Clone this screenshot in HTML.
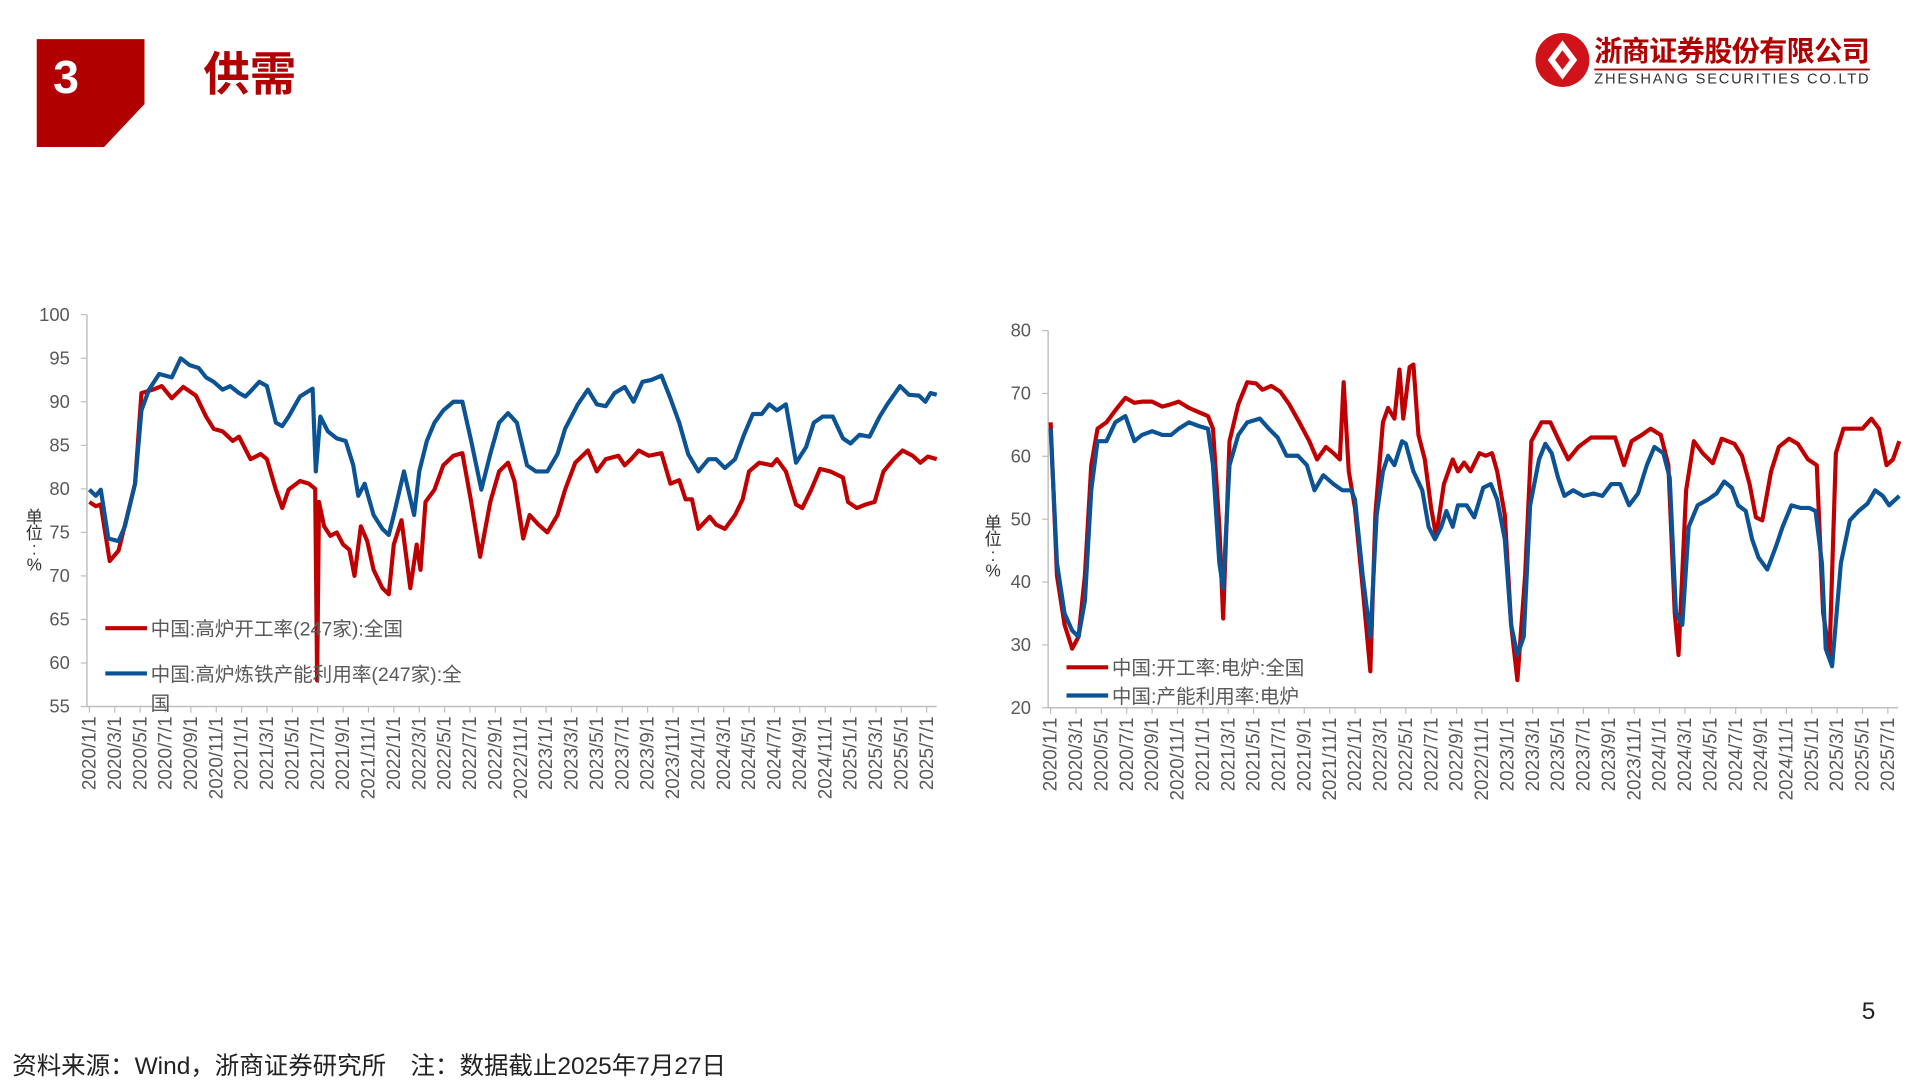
<!DOCTYPE html>
<html><head><meta charset="utf-8"><style>
html,body{margin:0;padding:0;background:#fff;width:1920px;height:1080px;overflow:hidden}
svg{display:block}
text{font-family:"Liberation Sans","Noto Sans CJK SC",sans-serif}
</style></head><body>
<svg id="root" width="1920" height="1080" viewBox="0 0 1568 882" preserveAspectRatio="none">
<g>
<path d="M30,32 H118 V85 L85,120 H30 Z" fill="#B00000"/>
<text x="54" y="76" font-size="38" font-weight="bold" fill="#fff" text-anchor="middle">3</text>
<text x="166" y="74" font-size="38" font-weight="bold" fill="#B00000">供需</text>
</g>
<g>
<circle cx="1276" cy="49" r="22" fill="#D0121B"/>
<path d="M1276,33 L1288,49 L1276,65 L1264,49 Z" fill="#fff"/>
<path d="M1276,41 L1282,49 L1276,57 L1270,49 Z" fill="#D0121B"/>
<text x="1302" y="50" font-size="23" font-weight="bold" fill="#B00000" textLength="225">浙商证券股份有限公司</text>
<rect x="1302" y="56" width="225" height="1.5" fill="#B00000"/>
<text x="1302" y="68" font-size="12" fill="#333" font-family="Liberation Serif,serif" textLength="224">ZHESHANG SECURITIES CO.LTD</text>
</g>
<g id="chartL"></g>
<g id="chartR"></g>
<text x="1526" y="832" font-size="20" fill="#222" text-anchor="middle">5</text>
<text x="10" y="877" font-size="20" fill="#222">资料来源：Wind，浙商证券研究所　注：数据截止2025年7月27日</text>
</svg>
<script>
// months since 2020-01-01
const tickLabels=[];for(let y=2020;y<=2025;y++)for(let m=1;m<=11;m+=2){if(y===2025&&m>7)break;tickLabels.push(y+'/'+m+'/1');}
const lRedDates=[0,0.5,0.9,1.6,2.3,2.9,3.6,4.1,5.0,5.7,6.5,7.4,8.4,9.2,9.8,10.5,11.3,11.8,12.7,13.5,14.0,14.7,15.2,15.7,16.6,17.3,17.8,17.95,18.1,18.5,19.0,19.5,20.0,20.5,20.9,21.4,21.9,22.4,23.1,23.6,24.0,24.6,25.3,25.8,26.1,26.5,27.2,27.9,28.7,29.4,30.1,30.8,31.6,32.3,33.0,33.5,34.2,34.7,35.4,36.1,36.9,37.5,38.3,39.3,40.0,40.7,41.7,42.2,42.7,43.3,44.1,45.1,45.8,46.5,47.0,47.5,48.0,48.9,49.4,50.1,50.9,51.5,52.0,52.8,53.8,54.2,54.9,55.7,56.2,56.9,57.6,58.4,59.4,59.8,60.5,61.2,61.9,62.6,63.4,64.1,64.9,65.5,66.1,66.8];
const lRed=[78.5,78,78.2,71.7,72.9,76.4,80.6,91,91.4,91.8,90.4,91.7,90.7,88.3,86.9,86.6,85.5,86,83.4,84,83.4,79.9,77.8,79.9,80.9,80.6,80,58,78.5,75.7,74.6,75,73.6,73,70,75.7,74,70.7,68.6,67.9,73.6,76.4,68.6,73.6,70.7,78.5,79.9,82.7,83.8,84.1,78.5,72.2,78.5,82,83,80.9,74.3,77,75.9,75,77,79.9,83,84.4,82,83.4,83.8,82.7,83.4,84.4,83.8,84.1,80.6,81,78.8,78.8,75.4,76.8,75.9,75.4,77,78.8,82,83,82.7,83.4,82,78.2,77.8,79.9,82.3,82,81.3,78.5,77.8,78.2,78.5,82,83.4,84.4,83.8,83,83.7,83.4];
const lBlueDates=[0,0.5,0.9,1.5,2.3,2.8,3.6,4.1,4.7,5.5,6.5,7.2,7.9,8.6,9.2,9.8,10.5,11.1,11.8,12.3,12.7,13.4,14.0,14.7,15.2,15.7,16.6,17.6,17.85,18.2,18.8,19.5,20.2,20.8,21.2,21.7,22.4,23.1,23.6,24.0,24.8,25.6,26.0,26.6,27.2,27.9,28.7,29.4,30.1,30.9,31.6,32.3,33.0,33.7,34.5,35.2,36.1,36.9,37.5,38.5,39.3,40.0,40.7,41.4,42.2,42.9,43.6,44.3,45.1,45.8,46.5,47.2,48.0,48.8,49.4,50.1,50.9,51.6,52.3,53.0,53.6,54.2,54.9,55.7,56.5,57.1,57.8,58.6,59.4,60.0,60.7,61.5,62.3,62.9,63.9,64.6,65.4,65.9,66.3,66.8];
const lBlue=[79.9,79.2,79.9,74.3,74,75.7,80.6,89,91.4,93.2,92.8,95,94.2,93.9,92.8,92.3,91.4,91.8,91,90.6,91.2,92.3,91.8,87.6,87.2,88.3,90.6,91.5,82,88.3,86.6,85.8,85.5,82.7,79.2,80.6,77,75.4,74.7,77,82,77,82,85.5,87.6,89,90,90,85.5,79.9,84,87.6,88.7,87.6,82.7,82,82,84,86.9,89.7,91.4,89.7,89.5,91,91.7,90,92.3,92.5,93,90.4,87.6,84,82,83.4,83.4,82.4,83.4,86.2,88.6,88.6,89.7,89,89.7,83,84.8,87.6,88.3,88.3,85.8,85.2,86.2,86,88.3,89.7,91.8,90.8,90.7,90,91,90.8];
const rRedDates=[0,0.5,1.1,1.7,2.2,2.7,3.2,3.7,4.4,5.1,5.9,6.6,7.2,8.0,8.8,9.5,10.1,10.9,11.7,12.4,12.8,13.3,13.6,14.1,14.8,15.5,16.2,16.7,17.4,18.1,18.8,19.6,20.4,21.0,21.7,22.3,22.8,23.1,23.5,24.0,24.6,25.2,25.6,26.2,26.6,27.1,27.5,27.8,28.3,28.6,29.0,29.5,30.0,30.4,31.0,31.7,32.1,32.6,33.1,33.8,34.3,34.8,35.2,35.8,36.3,36.8,37.4,37.9,38.7,39.4,40.1,40.8,41.6,42.6,43.5,44.5,45.2,45.8,46.6,47.3,48.1,48.7,49.2,49.5,50.1,50.7,51.4,52.2,52.9,53.9,54.5,55.1,55.6,56.1,56.8,57.4,58.2,58.9,59.7,60.4,60.9,61.4,61.9,62.5,63.2,64.0,64.7,65.3,65.9,66.4,66.9];
const rRed=[65.4,41,33.2,29.4,31.3,41,58.6,64.4,65.4,67.3,69.3,68.5,68.7,68.7,67.9,68.3,68.7,67.7,67,66.4,64.4,48.8,34.2,62.4,68.3,71.8,71.6,70.6,71.2,70.3,68.3,65.4,62.4,59.5,61.5,60.5,59.5,71.8,57.6,51.7,39,25.8,50.7,65.4,67.7,66,73.8,66,74.2,74.6,63.4,59.5,51.7,47.3,55.6,59.5,57.6,59,57.6,60.5,60.1,60.5,57.6,50.7,33.2,24.4,41,62.4,65.4,65.4,62.4,59.5,61.5,63,63,63,58.6,62.4,63.4,64.4,63.4,58.6,35.1,28.4,54.6,62.4,60.5,58.9,62.8,62,60.1,55.6,50.3,49.8,57.6,61.5,62.8,62,59.5,58.6,35.1,28.4,60.5,64.4,64.4,64.4,66,64.4,58.6,59.5,62.4];
const rBlueDates=[0,0.5,1.1,1.7,2.2,2.7,3.2,3.7,4.4,5.1,5.9,6.6,7.2,8.0,8.8,9.5,10.1,10.9,11.7,12.4,12.8,13.3,13.6,14.1,14.8,15.5,16.5,17.2,17.9,18.6,19.5,20.2,20.8,21.5,22.3,23.0,23.7,24.0,24.6,25.2,25.7,26.2,26.6,27.1,27.7,28.0,28.6,29.3,29.8,30.3,30.8,31.2,31.7,32.1,32.8,33.4,34.1,34.7,35.2,35.8,36.3,36.8,37.3,37.8,38.5,39.0,39.5,40.0,40.5,41.2,42.0,42.8,43.5,44.2,44.9,45.6,46.3,47.0,47.6,48.3,48.8,49.3,49.8,50.3,51.0,51.8,52.5,53.1,53.7,54.2,54.8,55.3,55.8,56.5,57.2,57.7,58.4,59.1,59.8,60.3,60.8,61.1,61.6,62.3,63.0,63.7,64.4,65.0,65.6,66.1,66.9];
const rBlue=[64.4,43,35,32.3,31.3,37,54.6,62.4,62.4,65.4,66.4,62.4,63.4,64,63.4,63.4,64.4,65.4,64.8,64.4,58.6,43,39,58.6,63.4,65.4,66,64.4,63,60.1,60.1,58.6,54.6,57,55.6,54.6,54.6,53.1,41,31.3,50.7,57.6,60.1,58.6,62.4,62,57.6,54.6,48.8,46.8,48.8,51.3,48.8,52.2,52.2,50.3,55,55.6,53.1,46.8,33.2,28.4,31.3,52.2,59.5,62,60.5,56.6,53.7,54.6,53.7,54.1,53.7,55.6,55.6,52.2,54.1,58.6,61.5,60.5,56.6,35.1,33.2,48.8,52.2,53.1,54.1,56,55,52.2,51.3,46.8,43.9,42,45.8,48.8,52.2,51.8,51.8,51.3,43,29.4,26.6,43,49.8,51.3,52.5,54.6,53.7,52.2,53.7];

const NS='http://www.w3.org/2000/svg';
function mk(tag,attrs,parent){const e=document.createElementNS(NS,tag);for(const k in attrs)e.setAttribute(k,attrs[k]);parent.appendChild(e);return e;}
function drawChart(g,cfg){
  const xs=m=>cfg.x0+m*cfg.pxm, ys=v=>cfg.yTop+(cfg.yMax-v)*(cfg.yBot-cfg.yTop)/(cfg.yMax-cfg.yMin);
  const ax=mk('path',{d:`M${cfg.x0-2},${cfg.yTop} V${cfg.yBot} H${cfg.xEnd}`,stroke:'#bfbfbf','stroke-width':1.2,fill:'none'},g);
  
  
  for(let v=cfg.yMin;v<=cfg.yMax;v+=cfg.yStep){
    mk('line',{x1:cfg.x0-7,x2:cfg.x0-2,y1:ys(v),y2:ys(v),stroke:'#bfbfbf','stroke-width':1},g);
    const t=mk('text',{x:cfg.x0-16,y:ys(v)+5,'font-size':15,fill:'#595959','text-anchor':'end'},g);
    t.textContent=v;
    
    
  }
  tickLabels.forEach((lab,i)=>{
    const x=xs(i*2);
    mk('line',{x1:x,x2:x,y1:cfg.yBot,y2:cfg.yBot+5,stroke:'#bfbfbf','stroke-width':1},g);
    const t=mk('text',{x:0,y:0,'font-size':15.5,fill:'#595959','text-anchor':'end',transform:`translate(${x+5},${cfg.yBot+8}) rotate(-90)`},g);
    t.textContent=lab;
    
    
  });
  ['单','位',':','%'].forEach((c,i)=>{const t=mk('text',{x:cfg.unitX,y:cfg.unitY+i*13,'font-size':14,fill:'#333','text-anchor':'middle'},g);t.textContent=c;
    
    });
  cfg.series.forEach(s=>{
    const d=s.dates.map((m,i)=>(i?'L':'M')+xs(m).toFixed(1)+','+ys(s.vals[i]).toFixed(1)).join(' ');
    const p=mk('path',{d,stroke:s.color,'stroke-width':3.4,fill:'none','stroke-linejoin':'round'},g);
    
    
  });
  cfg.legend.forEach(l=>{
    const lg=mk('g',{},g);
    
    
    mk('line',{x1:l.x,x2:l.x+34,y1:l.y,y2:l.y,stroke:l.color,'stroke-width':3.4},lg);
    l.lines.forEach((tx,j)=>{const t=mk('text',{x:l.x+37,y:l.y+6+j*24,'font-size':16,fill:'#595959'},lg);t.textContent=tx;});
  });
}
drawChart(document.getElementById('chartL'),{x0:73,pxm:10.36,xEnd:765,yTop:257,yBot:577,yMin:55,yMax:100,yStep:5,unitX:28,unitY:427,
  series:[{dates:lRedDates,vals:lRed,color:'#C00000',name:'series-blast-furnace-operating-rate'},{dates:lBlueDates,vals:lBlue,color:'#0B5394',name:'series-blast-furnace-capacity-utilization'}],
  legend:[{x:86,y:513,color:'#C00000',lines:['中国:高炉开工率(247家):全国']},{x:86,y:550,color:'#0B5394',lines:['中国:高炉炼铁产能利用率(247家):全','国']}]});
drawChart(document.getElementById('chartR'),{x0:858,pxm:10.36,xEnd:1550,yTop:270,yBot:578,yMin:20,yMax:80,yStep:10,unitX:811,unitY:432,
  series:[{dates:rRedDates,vals:rRed,color:'#C00000',name:'series-eaf-operating-rate'},{dates:rBlueDates,vals:rBlue,color:'#0B5394',name:'series-eaf-capacity-utilization'}],
  legend:[{x:871,y:545,color:'#C00000',lines:['中国:开工率:电炉:全国']},{x:871,y:568,color:'#0B5394',lines:['中国:产能利用率:电炉']}]});
</script>
</body></html>
